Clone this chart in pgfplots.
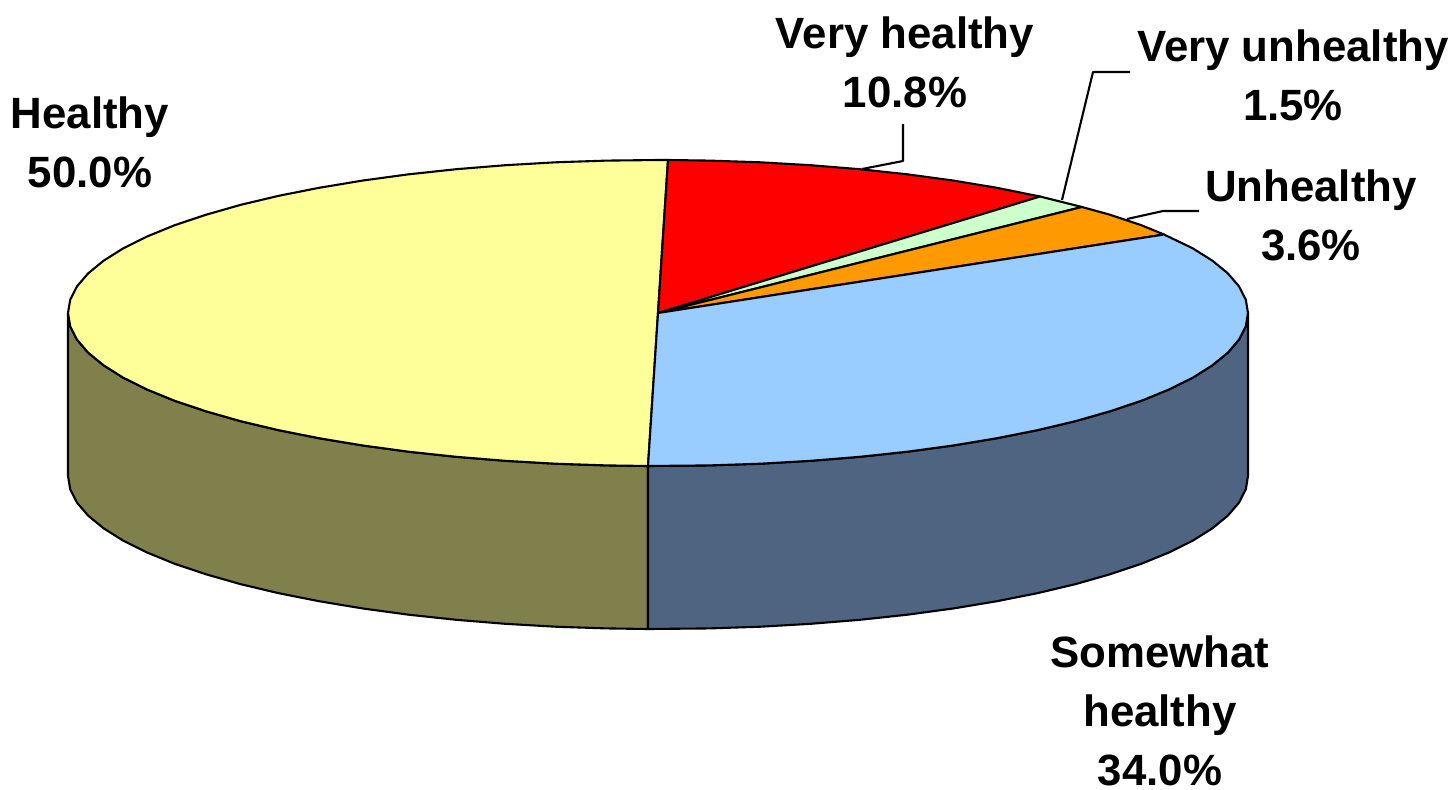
\documentclass[border=0pt]{standalone}
\usepackage{pgfplots}
\pgfplotsset{compat=1.18}
\usepackage{fontspec}
\setmainfont{Liberation Sans}
\definecolor{cYellow}{HTML}{FFFF99}
\definecolor{cRed}{HTML}{FF0000}
\definecolor{cGreen}{HTML}{CCFFCC}
\definecolor{cOrange}{HTML}{FF9900}
\definecolor{cBlue}{HTML}{99CCFF}
\definecolor{cOlive}{HTML}{80804D}
\definecolor{cSlate}{HTML}{4F6480}
\begin{document}
\begin{tikzpicture}
\begin{axis}[
  scale only axis, width=726pt, height=394.5pt,
  xmin=0, xmax=1452, ymin=0, ymax=789, y dir=reverse,
  hide axis, clip=false,
  every axis plot/.append style={line width=1.05pt, draw=black, line join=round}
]
% side walls
\addplot[fill=cOlive] coordinates {
(648,466)(606.6,465.4)(555.6,463.7)(505.3,460.8)(456.2,456.8)(408.7,451.7)(363,445.5)(319.6,438.3)(278.7,430.2)(240.8,421.2)(206.1,411.3)(174.7,400.8)(147.1,389.5)(123.3,377.7)(103.6,365.3)(88.1,352.6)(77,339.6)(70.2,326.3)(68,313)
(68,476)(70.2,489.3)(77,502.6)(88.1,515.6)(103.6,528.3)(123.3,540.7)(147.1,552.5)(174.7,563.8)(206.1,574.3)(240.8,584.2)(278.7,593.2)(319.6,601.3)(363,608.5)(408.7,614.7)(456.2,619.8)(505.3,623.8)(555.6,626.7)(606.6,628.4)(648,629)(648,466)};
\addplot[fill=cSlate] coordinates {
(648,466)(709.4,465.4)(760.4,463.7)(810.7,460.8)(859.8,456.8)(907.3,451.7)(953,445.5)(996.4,438.3)(1037.3,430.2)(1075.2,421.2)(1109.9,411.3)(1141.3,400.8)(1168.9,389.5)(1192.7,377.7)(1212.4,365.3)(1227.9,352.6)(1239,339.6)(1245.8,326.3)(1248,313)
(1248,476)(1245.8,489.3)(1239,502.6)(1227.9,515.6)(1212.4,528.3)(1192.7,540.7)(1168.9,552.5)(1141.3,563.8)(1109.9,574.3)(1075.2,584.2)(1037.3,593.2)(996.4,601.3)(953,608.5)(907.3,614.7)(859.8,619.8)(810.7,623.8)(760.4,626.7)(709.4,628.4)(648,629)(648,466)};
% top slices
\addplot[fill=cYellow] coordinates {
(658,313)(668,160)(658,160)(606.6,160.6)(555.6,162.3)(505.3,165.2)(456.2,169.2)(408.7,174.3)(363,180.5)(319.6,187.7)(278.7,195.8)(240.8,204.8)(206.1,214.7)(174.7,225.2)(147.1,236.5)(123.3,248.3)(103.6,260.7)(88.1,273.4)(77,286.4)(70.2,299.7)(68,313)
(70.2,326.3)(77,339.6)(88.1,352.6)(103.6,365.3)(123.3,377.7)(147.1,389.5)(174.7,400.8)(206.1,411.3)(240.8,421.2)(278.7,430.2)(319.6,438.3)(363,445.5)(408.7,451.7)(456.2,456.8)(505.3,460.8)(555.6,463.7)(606.6,465.4)(648,466)(658,313)};
\addplot[fill=cRed] coordinates {
(658,313)(668,160)(709.4,160.6)(760.4,162.3)(810.7,165.2)(859.8,169.2)(907.3,174.3)(953,180.5)(996.4,187.7)(1040,196.5)(658,313)};
\addplot[fill=cGreen] coordinates {
(658,313)(1040,196.5)(1082,207)(658,313)};
\addplot[fill=cOrange] coordinates {
(658,313)(1082,207)(1109.9,214.7)(1141.3,225.2)(1164,234.5)(658,313)};
\addplot[fill=cBlue] coordinates {
(658,313)(1164,234.5)(1192.7,248.3)(1212.4,260.7)(1227.9,273.4)(1239,286.4)(1245.8,299.7)(1248,313)
(1245.8,326.3)(1239,339.6)(1227.9,352.6)(1212.4,365.3)(1192.7,377.7)(1168.9,389.5)(1141.3,400.8)(1109.9,411.3)(1075.2,421.2)(1037.3,430.2)(996.4,438.3)(953,445.5)(907.3,451.7)(859.8,456.8)(810.7,460.8)(760.4,463.7)(709.4,465.4)(648,466)(658,313)};
% leader lines
\addplot[no marks] coordinates {(862,169)(903,161)(903,124)};
\addplot[no marks] coordinates {(1062,200)(1093,72)(1130,72)};
\addplot[no marks] coordinates {(1127,219)(1163,211)(1199,211)};
% labels
\def\lab#1#2#3{\node[align=center,font=\fontsize{21.9}{29.5}\selectfont\bfseries,inner sep=0pt] at (axis cs:#1,#2) {#3};}
\lab{90}{142}{Healthy\\50.0\%}
\lab{905}{62}{Very healthy\\10.8\%}
\lab{1293}{75}{Very unhealthy\\1.5\%}
\lab{1311}{215}{Unhealthy\\3.6\%}
\lab{1160}{711}{Somewhat\\healthy\\34.0\%}
\end{axis}
\pgfresetboundingbox
\path[use as bounding box] (0,0) rectangle (726pt,394.5pt);
\end{tikzpicture}
\end{document}
